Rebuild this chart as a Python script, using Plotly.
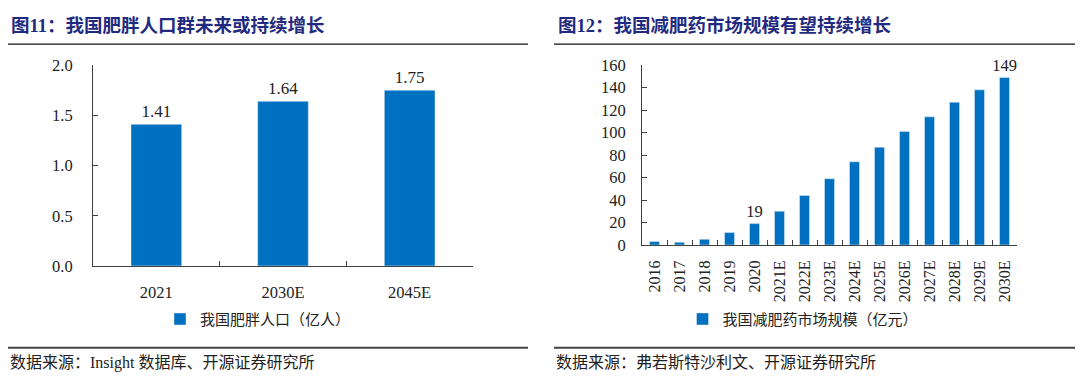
import plotly.graph_objects as go

# Left chart data
pop_years = ["2021", "2030E", "2045E"]
pop_values = [1.41, 1.64, 1.75]
pop_name = "我国肥胖人口（亿人）"

# Right chart data
mkt_years = ["2016", "2017", "2018", "2019", "2020", "2021E", "2022E", "2023E",
             "2024E", "2025E", "2026E", "2027E", "2028E", "2029E", "2030E"]
mkt_values = [3, 2.5, 5, 11, 19, 30, 44, 59, 74, 87, 101, 114, 127, 138, 149]
mkt_labels = ["", "", "", "", "19", "", "", "", "", "", "", "", "", "", "149"]
mkt_name = "我国减肥药市场规模（亿元）"

title_left = "图11：我国肥胖人口群未来或持续增长"
title_right = "图12：我国减肥药市场规模有望持续增长"
src_left = "数据来源：Insight 数据库、开源证券研究所"
src_right = "数据来源：弗若斯特沙利文、开源证券研究所"

BLUE = "#0070C0"
NAVY = "#1f2a80"
FONT = "Liberation Serif, Noto Sans CJK SC"
W, H = 1080, 392

def px_x(x):
    return x / W

def px_y(y):
    return 1 - y / H

fig = go.Figure()
fig.add_trace(go.Bar(
    x=pop_years, y=pop_values, name=pop_name, marker_color=BLUE, width=0.4,
    text=[f"{v:.2f}" for v in pop_values], textposition="outside", constraintext="none",
    textfont=dict(size=17, color="#222", family=FONT), cliponaxis=False,
    xaxis="x", yaxis="y", legend="legend",
))
fig.add_trace(go.Bar(
    x=mkt_years, y=mkt_values, name=mkt_name, marker_color=BLUE, width=0.4,
    text=mkt_labels, textposition="outside", constraintext="none",
    textfont=dict(size=16.5, color="#222", family=FONT), cliponaxis=False,
    xaxis="x2", yaxis="y2", legend="legend2",
))

axis_common = dict(showline=True, linecolor="#404040", linewidth=1, showgrid=False,
                   zeroline=False, ticks="inside", ticklen=5, tickcolor="#404040")
tick_font = dict(size=16.5, color="#222", family=FONT)

fig.update_layout(
    width=W, height=H, margin=dict(l=0, r=0, t=0, b=0),
    paper_bgcolor="white", plot_bgcolor="white",
    font=dict(family=FONT, color="#222"),
    xaxis=dict(domain=[px_x(93), px_x(473)], anchor="y", tickson="boundaries",
               ticklabelstandoff=11, tickfont=tick_font, **axis_common),
    yaxis=dict(domain=[px_y(270), px_y(59)], anchor="x", range=[0, 2.0], dtick=0.5,
               tickformat=".1f", ticklabelstandoff=16, tickfont=tick_font, **axis_common),
    xaxis2=dict(domain=[px_x(642), px_x(1017)], anchor="y2", tickson="boundaries",
                tickangle=-90, ticklabelstandoff=8,
                tickfont=dict(size=16, color="#222", family=FONT), **axis_common),
    yaxis2=dict(domain=[px_y(248), px_y(59)], anchor="x2", range=[0, 160], dtick=20,
                ticklabelstandoff=12, tickfont=tick_font, **axis_common),
    legend=dict(x=px_x(258), y=px_y(326), xanchor="center", yanchor="middle",
                orientation="h", font=dict(size=15, color="#222", family=FONT),
                itemwidth=30, bgcolor="rgba(0,0,0,0)"),
    legend2=dict(x=px_x(803), y=px_y(326), xanchor="center", yanchor="middle",
                 orientation="h", font=dict(size=15, color="#222", family=FONT),
                 itemwidth=30, bgcolor="rgba(0,0,0,0)"),
    showlegend=True,
)

# Titles and sources
for txt, x in [(title_left, 9), (title_right, 556)]:
    fig.add_annotation(text=f"<b>{txt}</b>", x=px_x(x), y=px_y(17), xref="paper", yref="paper",
                       xanchor="left", yanchor="middle", showarrow=False,
                       font=dict(size=18.5, color=NAVY, family=FONT))
for txt, x in [(src_left, 8), (src_right, 554)]:
    fig.add_annotation(text=txt, x=px_x(x), y=px_y(372), xref="paper", yref="paper",
                       xanchor="left", yanchor="middle", showarrow=False,
                       font=dict(size=16, color="#222", family=FONT))

# Rules
for x0, x1 in [(8, 528), (554, 1075)]:
    fig.add_shape(type="line", xref="paper", yref="paper", x0=px_x(x0), x1=px_x(x1),
                  y0=px_y(37), y1=px_y(37), line=dict(color="#111", width=1.2))
    fig.add_shape(type="line", xref="paper", yref="paper", x0=px_x(x0), x1=px_x(x1),
                  y0=px_y(356), y1=px_y(356), line=dict(color="#444", width=2))

css = ("var s=document.createElement('style');"
       "s.textContent='html,body{margin:0;padding:0;overflow:hidden;width:1080px;height:392px;}"
       "body>div{margin:0;padding:0;height:392px;line-height:0;}';"
       "document.head.appendChild(s);")
fig.write_html("out.html", config={"displayModeBar": False}, post_script=css)
